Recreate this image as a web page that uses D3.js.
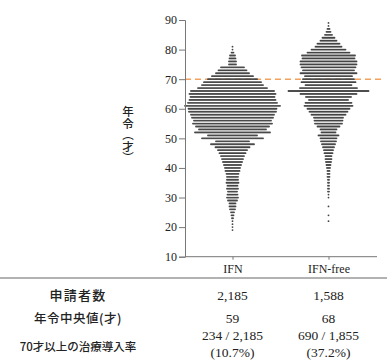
<!DOCTYPE html>
<html><head><meta charset="utf-8">
<script src="https://cdn.jsdelivr.net/npm/d3@7"></script>
<style>html,body{margin:0;padding:0;background:#fff;}svg{display:block;}</style>
</head><body>
<script>
// ---- data ----
const categories = ["IFN", "IFN-free"];
const yTicks = [10, 20, 30, 40, 50, 60, 70, 80, 90];
const thresholdAge = 70;
// age (years) and patient counts at each age
const ifnAges = d3.range(19, 82);
const ifnCounts = [1,1,1,1,2,3,4,6,7,7,10,12,11,10,12,11,13,12,12,13,15,16,18,20,22,24,27,30,35,44,34,62,50,76,68,74,80,78,82,84,88,89,96,90,87,85,87,84,70,62,58,50,42,34,29,24,8,8,7,6,3,1,1];
const freeAges = [22,24,27].concat(d3.range(30, 90));
const freeCounts = [1,1,1, 1,1,2,2,2,2,2,3,3,3,4,5,6,7,7,9,10,12,14,16,17,21,15,17,23,28,29,30,35,39,43,49,47,40,46,57,81,58,47,55,52,48,57,52,55,57,57,53,54,43,35,27,23,17,13,8,5,3,1,1];
const yTitle = "年令（才）";
const summaryLabels = ["申請者数", "年令中央値(才)", "70才以上の治療導入率"];
const summaryIFN = [["2,185"], ["59"], ["234 / 2,185", "(10.7%)"]];
const summaryFree = [["1,588"], ["68"], ["690 / 1,855", "(37.2%)"]];

// ---- layout ----
const W = 387, H = 362;
const SERIF = "'Liberation Serif', 'Times New Roman', serif";
const CJK = "'Noto Sans CJK JP', sans-serif";
const svg = d3.select("body").append("svg").attr("width", W).attr("height", H);
const y = d3.scaleLinear().domain([10, 90]).range([256.7, 20]);
const x = d3.scalePoint().domain(categories).range([232.5, 328.5]);
const dotStep = d3.scaleLinear().domain([0, 1]).range([0, 1.0]);

// threshold line (behind dots)
svg.append("line")
  .attr("x1", 185).attr("x2", 384)
  .attr("y1", y(thresholdAge)).attr("y2", y(thresholdAge))
  .attr("stroke", "#f4a15e").attr("stroke-width", 1.6)
  .attr("stroke-dasharray", "6,4");

// dots
const series = [
  {cat: "IFN", ages: ifnAges, counts: ifnCounts},
  {cat: "IFN-free", ages: freeAges, counts: freeCounts}
];
series.forEach(s => {
  const pts = [];
  s.ages.forEach((a, k) => {
    const n = s.counts[k];
    for (let i = 0; i < n; i++) pts.push({a, off: i - (n - 1) / 2});
  });
  svg.append("g").selectAll("circle").data(pts).join("circle")
    .attr("cx", d => x(s.cat) + dotStep(d.off))
    .attr("cy", d => y(d.a))
    .attr("r", 0.9)
    .attr("fill", "#444");
});

// y axis
const yAxis = svg.append("g").attr("transform", "translate(185,0)")
  .call(d3.axisLeft(y).tickValues(yTicks).tickSize(6).tickPadding(2));
yAxis.attr("font-family", SERIF);
yAxis.select(".domain").attr("stroke", "#777");
yAxis.selectAll(".tick line").attr("stroke", "#777");
yAxis.selectAll("text").style("font-family", SERIF).attr("font-size", 12).attr("fill", "#222");

// x axis
const xAxis = svg.append("g").attr("transform", `translate(0,${y(10)})`)
  .call(d3.axisBottom(x).tickSize(3).tickPadding(5));
xAxis.attr("font-family", SERIF);
xAxis.select(".domain").attr("d", `M185,0H377`).attr("stroke", "#777");
xAxis.selectAll(".tick line").attr("stroke", "#777");
xAxis.selectAll("text").style("font-family", SERIF).attr("font-size", 12).attr("fill", "#222");

// y-axis title (vertical writing)
svg.append("text")
  .attr("x", 128).attr("y", 106)
  .style("font-family", CJK).attr("font-size", 11.5).attr("font-weight", 500)
  .style("writing-mode", "vertical-rl")
  .attr("fill", "#222")
  .text(yTitle);

// separator
svg.append("line").attr("x1", 0).attr("x2", W).attr("y1", 278).attr("y2", 278)
  .attr("stroke", "#999").attr("stroke-width", 1.5);

// summary table
const rowY = [300, 323, 351];
const labelSize = [13, 12.5, 11.5];
const labelSpacing = [1.2, 0.5, 0];
summaryLabels.forEach((lab, i) => {
  svg.append("text").attr("x", 78).attr("y", rowY[i]).attr("text-anchor", "middle")
    .style("font-family", CJK).attr("font-size", labelSize[i]).attr("font-weight", 500)
    .attr("letter-spacing", labelSpacing[i]).attr("fill", "#222")
    .text(lab);
});
[summaryIFN, summaryFree].forEach((vals, c) => {
  vals.forEach((lines, i) => {
    lines.forEach((t, j) => {
      const yy = lines.length === 1 ? rowY[i] : 340 + j * 17;
      svg.append("text").attr("x", x(categories[c])).attr("y", yy).attr("text-anchor", "middle")
        .style("font-family", SERIF).attr("font-size", 13.5).attr("fill", "#222")
        .text(t);
    });
  });
});
</script>
</body></html>
